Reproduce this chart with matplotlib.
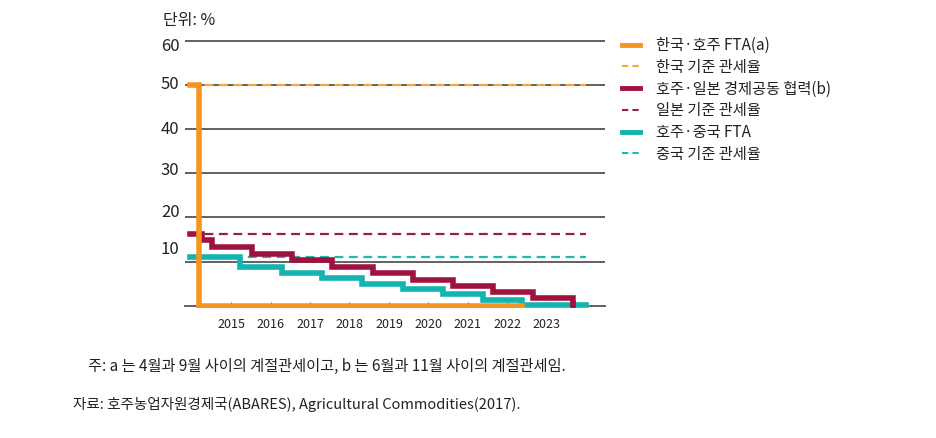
import matplotlib
matplotlib.use("Agg")
import matplotlib.pyplot as plt
from matplotlib.lines import Line2D

plt.rcParams['font.family'] = ['Noto Sans CJK KR', 'DejaVu Sans']

# ---- data ----
years = [2015, 2016, 2017, 2018, 2019, 2020, 2021, 2022, 2023, 2024]
year_labels = ['2015', '2016', '2017', '2018', '2019', '2020', '2021', '2022', '2023', '']
y_ticks = [10, 20, 30, 40, 50, 60]
y_labels = ['10', '20', '30', '40', '50', '60']

start_x = 2013.96
end_x = 2024.0

# Korea–Australia FTA (a)
kor_x = [2013.96, 2014.20, 2022.36]
kor_y = [50, 0, 0]
kor_base = 50

# Japan–Australia EPA (b)
jpn_x = [2013.96, 2014.26, 2014.51, 2015.52, 2016.54, 2017.55, 2018.60,
         2019.62, 2020.63, 2021.64, 2022.64, 2023.67]
jpn_y = [16.3, 14.8, 13.4, 11.8, 10.3, 8.8, 7.3, 5.9, 4.5, 3.1, 1.8, 0.4]
jpn_base = 16.3

# China–Australia FTA
chn_x = [2013.96, 2015.23, 2016.28, 2017.30, 2018.31, 2019.36, 2020.37,
         2021.39, 2022.36, 2024.0]
chn_y = [11.1, 8.8, 7.5, 6.3, 5.0, 3.7, 2.6, 1.3, 0.1, 0.1]
chn_base = 11.0

labels = ['한국·호주 FTA(a)', '한국 기준 관세율', '호주·일본 경제공동 협력(b)',
          '일본 기준 관세율', '호주·중국 FTA', '중국 기준 관세율']

# ---- style ----
C_OR = '#F7941D'
C_OR_D = '#F9A43C'
C_RD = '#A0123E'
C_RD_D = '#9B1C45'
C_TL = '#12B3B0'
C_TL_D = '#22B8B2'
GRID = '#555555'
TXT = '#222222'

fig = plt.figure(figsize=(9.36, 4.38), dpi=100)
W, H = 936, 438
left, right = 185 / W, 605 / W
ax = fig.add_axes([left, 1 - 307.7 / H, right - left, (307.7 - 37.1) / H])
ax.set_xlim(2013.835, 2024.47)
ax.set_ylim(-0.5, 61)

for v in y_ticks:
    ax.axhline(v, color=GRID, lw=1.3, zorder=1)

lw_s = 4.0
lw_d = 1.6
ax.plot([start_x, end_x], [kor_base, kor_base], color=C_OR_D, lw=lw_d, ls=(0, (4, 2.5)), zorder=2)
ax.plot([start_x, end_x], [jpn_base, jpn_base], color=C_RD_D, lw=lw_d, ls=(0, (4, 2.5)), zorder=2)
ax.plot([start_x, end_x], [chn_base, chn_base], color=C_TL_D, lw=lw_d, ls=(0, (4, 2.5)), zorder=2)

ax.step(chn_x, chn_y, where='post', color=C_TL, lw=lw_s, zorder=3, solid_joinstyle='miter')
ax.step(jpn_x, jpn_y, where='post', color=C_RD, lw=lw_s, zorder=4, solid_joinstyle='miter')
ax.plot([jpn_x[-1], jpn_x[-1]], [jpn_y[-1], 0], color=C_RD, lw=lw_s, zorder=4)
ax.step(kor_x, kor_y, where='post', color=C_OR, lw=lw_s, zorder=5, solid_joinstyle='miter')

for s in ['left', 'top', 'right']:
    ax.spines[s].set_visible(False)
ax.spines['bottom'].set_position(('data', 0))
ax.spines['bottom'].set_color(GRID)
ax.spines['bottom'].set_linewidth(1.3)
ax.spines['bottom'].set_zorder(1)

ax.set_xticks(years)
ax.set_xticklabels(year_labels)
ax.tick_params(axis='x', direction='in', length=3, color=GRID, pad=9,
               labelsize=9, labelcolor=TXT)
ax.set_yticks([])

# y labels (with small per-label vertical offsets as in the original)
y_off_px = [12, 5, 3, 0, 1, -5]
for v, lab, off in zip(y_ticks, y_labels, y_off_px):
    ax.annotate(lab, xy=(0, v), xycoords=('axes fraction', 'data'),
                xytext=(-4, off * 0.72), textcoords='offset points',
                ha='right', va='center', fontsize=12, color=TXT)

fig.text(163 / W, 1 - 20 / H, '단위: %', ha='left', va='center', fontsize=11.5, color=TXT)

handles = [
    Line2D([], [], color=C_OR, lw=3.5),
    Line2D([], [], color=C_OR_D, lw=1.5, ls=(0, (3, 2))),
    Line2D([], [], color=C_RD, lw=3.5),
    Line2D([], [], color=C_RD_D, lw=1.5, ls=(0, (3, 2))),
    Line2D([], [], color=C_TL, lw=3.5),
    Line2D([], [], color=C_TL_D, lw=1.5, ls=(0, (3, 2))),
]
fig.legend(handles, labels, loc='upper left', bbox_to_anchor=(622 / W, 1 - 37 / H),
           frameon=False, fontsize=11, handlelength=1.2, handletextpad=1.0,
           labelspacing=0.31, borderaxespad=0, borderpad=0, labelcolor=TXT)

fig.text(88 / W, 1 - 366 / H, '주: a 는 4월과 9월 사이의 계절관세이고, b 는 6월과 11월 사이의 계절관세임.',
         ha='left', va='center', fontsize=11, color=TXT)
fig.text(73 / W, 1 - 405 / H, '자료: 호주농업자원경제국(ABARES), Agricultural Commodities(2017).',
         ha='left', va='center', fontsize=10.5, color=TXT)

fig.savefig('out.png', dpi=100)
